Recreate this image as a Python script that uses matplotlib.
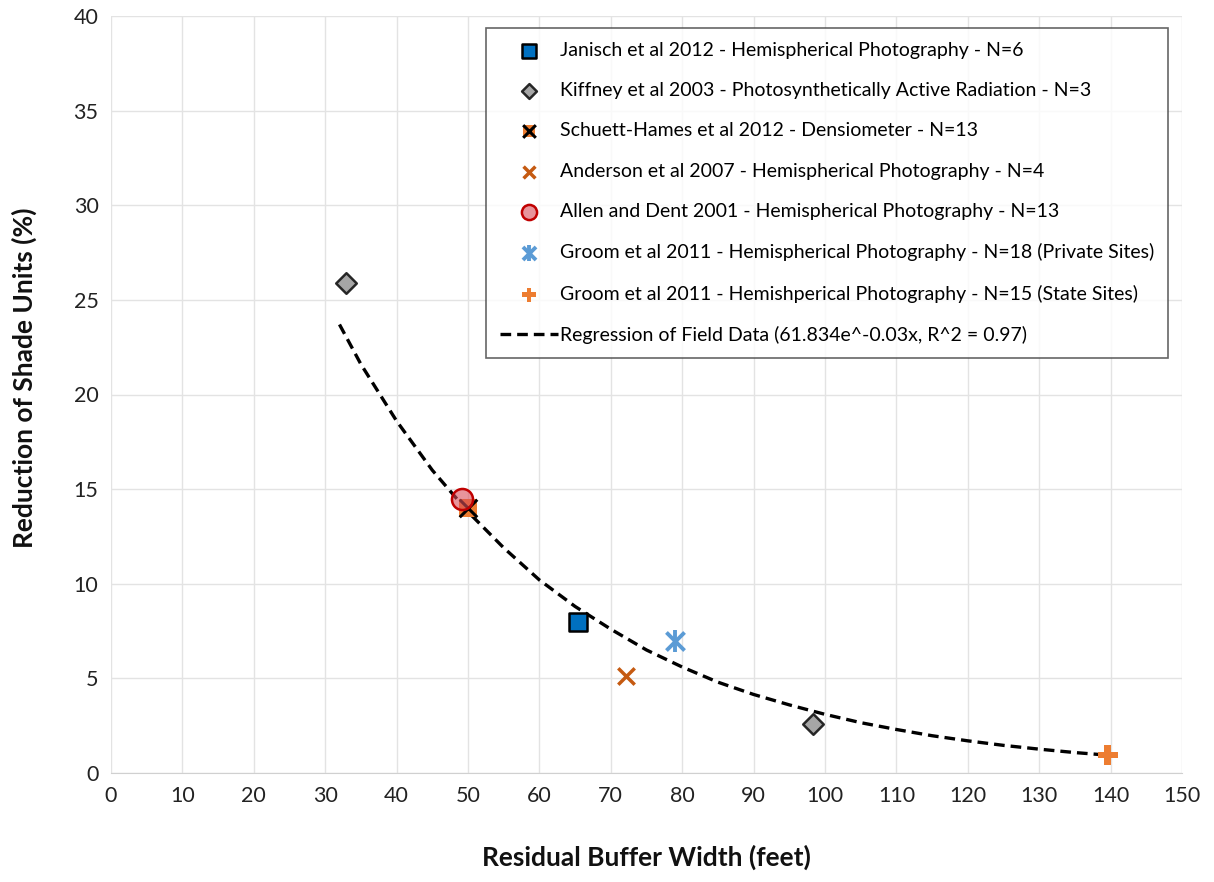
import matplotlib
matplotlib.use("Agg")
import matplotlib.pyplot as plt
from matplotlib.legend_handler import HandlerTuple

plt.rcParams['font.family'] = ['Lato', 'DejaVu Sans']

# Data
janisch_x, janisch_y = [65.4], [8.0]
kiffney_x, kiffney_y = [32.9, 98.3], [25.9, 2.6]
schuett_x, schuett_y = [50.0], [14.0]
anderson_x, anderson_y = [72.1], [5.1]
allen_x, allen_y = [49.2], [14.5]
groom_priv_x, groom_priv_y = [79.0], [7.0]
groom_state_x, groom_state_y = [139.6], [0.95]

reg_x = [32, 35, 40, 45, 50, 55, 60, 65, 70, 75, 80, 85, 90, 95, 100, 105,
         110, 115, 120, 125, 130, 135, 140]
reg_y = [23.7, 21.6, 18.6, 16.0, 13.8, 11.9, 10.2, 8.8, 7.6, 6.5, 5.6, 4.8,
         4.15, 3.6, 3.1, 2.66, 2.3, 1.97, 1.7, 1.46, 1.26, 1.08, 0.93]

labels = [
    "Janisch et al 2012 - Hemispherical Photography - N=6",
    "Kiffney et al 2003 - Photosynthetically Active Radiation - N=3",
    "Schuett-Hames et al 2012 - Densiometer - N=13",
    "Anderson et al 2007 - Hemispherical Photography - N=4",
    "Allen and Dent 2001 - Hemispherical Photography - N=13",
    "Groom et al 2011 - Hemispherical Photography - N=18 (Private Sites)",
    "Groom et al 2011 - Hemishperical Photography - N=15 (State Sites)",
    "Regression of Field Data (61.834e^-0.03x, R^2 = 0.97)",
]
x_ticks = list(range(0, 151, 10))
y_ticks = list(range(0, 41, 5))

fig = plt.figure(figsize=(12.14, 8.82), dpi=100)
ax = fig.add_axes([111/1214, 1 - 773/882, (1182-111)/1214, (773-16)/882])

ax.set_xlim(0, 150)
ax.set_ylim(0, 40)
ax.set_xticks(x_ticks)
ax.set_yticks(y_ticks)
ax.grid(True, color='#E3E3E3', linewidth=1.0)
ax.set_axisbelow(True)
for s in ['top', 'right', 'left']:
    ax.spines[s].set_visible(False)
ax.spines['bottom'].set_color('#D0D0D0')
ax.tick_params(length=0, labelsize=15.5, colors='#222222', pad=9)

reg, = ax.plot(reg_x, reg_y, color='black', linestyle=(0, (3.2, 1.8)), linewidth=2.4, zorder=3)

h1 = ax.scatter(janisch_x, janisch_y, marker='s', s=170, facecolor='#0070C0',
                edgecolor='black', linewidth=1.8, zorder=4)
h2 = ax.scatter(kiffney_x, kiffney_y, marker='D', s=110, facecolor='#A6A6A6',
                edgecolor='#262626', linewidth=1.8, zorder=4)
h3a = ax.scatter(schuett_x, schuett_y, marker='s', s=160, facecolor='#ED7D31',
                 edgecolor='none', zorder=4)
h3b = ax.scatter(schuett_x, schuett_y, marker='x', s=160, color='black',
                 linewidth=2.2, zorder=4)
h4 = ax.scatter(anderson_x, anderson_y, marker='x', s=140, color='#C55A11',
                linewidth=2.5, zorder=4)
h5 = ax.scatter(allen_x, allen_y, marker='o', s=230, facecolor=(0.85, 0.3, 0.35, 0.6),
                edgecolor='#C00000', linewidth=1.8, zorder=5)
h6a = ax.scatter(groom_priv_x, groom_priv_y, marker='x', s=170, color='#5B9BD5',
                 linewidth=2.8, zorder=4)
h6b = ax.scatter(groom_priv_x, groom_priv_y, marker='|', s=260, color='#5B9BD5',
                 linewidth=2.8, zorder=4)
h7 = ax.scatter(groom_state_x, groom_state_y, marker='P', s=200, color='#ED7D31',
                edgecolor='none', zorder=4)

ax.set_xlabel("Residual Buffer Width (feet)", fontsize=19, fontweight='bold',
              labelpad=28, color='#111111')
ax.set_ylabel("Reduction of Shade Units (%)", fontsize=19, fontweight='bold',
              color='#111111')
ax.yaxis.set_label_coords((37 - 111) / 1071, (773 - 378) / 757)

leg = ax.legend([h1, h2, (h3a, h3b), h4, h5, (h6a, h6b), h7, reg], labels,
                handler_map={tuple: HandlerTuple(ndivide=1, pad=0)},
                loc='upper right',
                fontsize=14, frameon=True, fancybox=False, edgecolor='#404040',
                handlelength=3.0, handletextpad=0.1, labelspacing=1.2,
                borderpad=0.7, markerscale=0.72, borderaxespad=0)
leg.get_frame().set_linewidth(1.2)
leg.set_bbox_to_anchor(((1168 - 111) / (1182 - 111), 1 - (28 - 16) / (773 - 16)),
                       transform=ax.transAxes)

fig.savefig("out.png", dpi=100, facecolor='white')
